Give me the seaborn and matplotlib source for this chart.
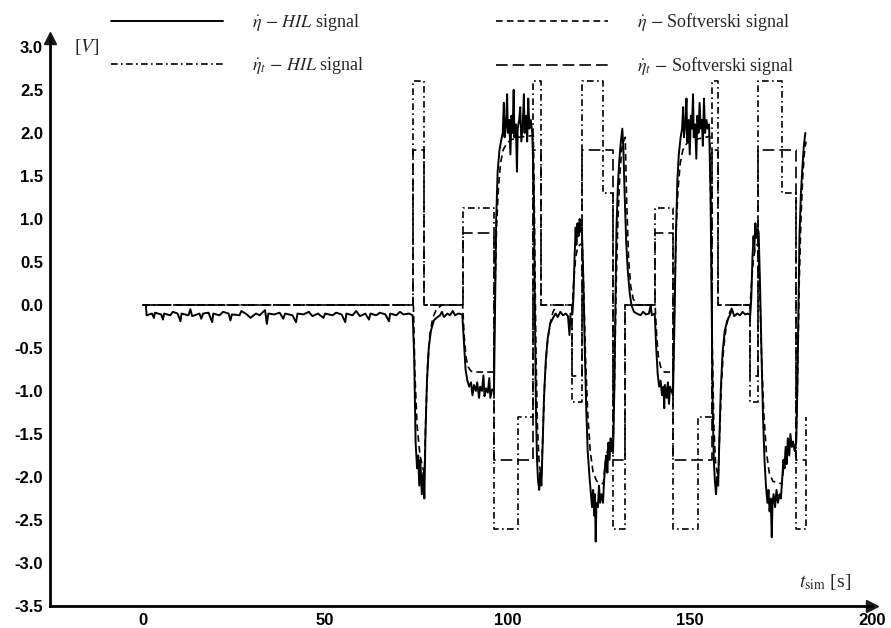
import numpy as np
import pandas as pd
import matplotlib.pyplot as plt
import seaborn as sns

# eta_t HIL (reference, dash-dot) - step breakpoints
ref_hil_t = [0, 74.2, 77.0, 87.7, 96.2, 103.0, 107.1, 109.3, 117.8, 120.5, 126.3, 129.0,
             132.3, 140.5, 145.5, 152.3, 156.0, 157.8, 166.6, 168.8, 175.3, 179.2, 182.0]
ref_hil_v = [0, 2.6, 0, 1.13, -2.6, -1.3, 2.6, 0, -1.13, 2.6, 1.3, -2.6,
             0, 1.13, -2.6, -1.3, 2.6, 0, -1.13, 2.6, 1.3, -2.6, -1.3]

# eta_t Softverski (reference, long dash) - step breakpoints
ref_sw_t = [0, 74.2, 77.0, 87.7, 96.2, 107.1, 109.3, 117.8, 120.5, 129.0, 132.3,
            140.5, 145.5, 156.0, 157.8, 166.6, 168.8, 179.2, 182.0]
ref_sw_v = [0, 1.8, 0, 0.84, -1.8, 1.8, 0, -0.83, 1.8, -1.8, 0,
            0.84, -1.8, 1.8, 0, -0.83, 1.8, -1.8, -1.8]

# eta HIL (measured, solid)
hil_eta = [
    (0, 0.0), (0.8, 0.0), (1.0, -0.12), (2.5, -0.1), (3.0, -0.15), (3.3, -0.09), (5.0, -0.11),
    (5.5, -0.17), (5.8, -0.1), (7.5, -0.12), (8.2, -0.08), (9.5, -0.1), (10.3, -0.19), (10.6, -0.1),
    (12.5, -0.12), (13.0, -0.05), (13.5, -0.13), (15.5, -0.1), (16.0, -0.16), (16.5, -0.1),
    (18.0, -0.09), (19.0, -0.2), (19.3, -0.1), (21.0, -0.12), (22.0, -0.08), (23.5, -0.1),
    (24.0, -0.18), (24.4, -0.11), (26.5, -0.12), (27.0, -0.07), (28.5, -0.11), (29.5, -0.15),
    (31.0, -0.1), (32.0, -0.12), (33.5, -0.06), (34.0, -0.22), (34.4, -0.1), (36.0, -0.11),
    (37.5, -0.09), (38.5, -0.16), (39.0, -0.1), (41.0, -0.12), (42.0, -0.2), (42.4, -0.1),
    (44.0, -0.11), (45.5, -0.08), (46.5, -0.13), (48.0, -0.1), (49.5, -0.15), (50.0, -0.1),
    (52.0, -0.12), (53.0, -0.09), (54.5, -0.11), (55.5, -0.2), (55.8, -0.1), (57.5, -0.12),
    (58.5, -0.07), (59.5, -0.13), (61.0, -0.1), (62.0, -0.17), (62.4, -0.1), (64.0, -0.12),
    (65.0, -0.09), (66.5, -0.11), (67.5, -0.19), (67.8, -0.1), (69.5, -0.12), (70.5, -0.08),
    (71.5, -0.11), (73.0, -0.1), (74.0, -0.12),
    (74.4, -0.6), (74.8, -1.6), (75.2, -1.9), (75.5, -1.75), (75.8, -2.1), (76.1, -1.8),
    (76.5, -2.2), (76.9, -1.95), (77.2, -2.25), (77.5, -1.5), (77.9, -0.9), (78.4, -0.5),
    (79.0, -0.3), (79.8, -0.18), (80.5, -0.15), (81.5, -0.12), (82.0, -0.08), (82.6, -0.14),
    (83.5, -0.1), (84.2, -0.12), (85.0, -0.07), (85.6, -0.12), (86.5, -0.1), (87.6, -0.11),
    (88.0, -0.4), (88.5, -0.75), (89.0, -0.88), (89.5, -0.95), (90.0, -0.9), (90.4, -1.05),
    (90.8, -0.93), (91.3, -1.0), (91.7, -0.9), (92.2, -1.08), (92.5, -0.95), (93.0, -1.0),
    (93.4, -0.82), (93.7, -1.06), (94.1, -0.97), (94.6, -1.02), (95.0, -0.85), (95.3, -1.08),
    (95.8, -0.98), (96.3, -1.0),
    (96.6, 0.0), (96.9, 1.0), (97.3, 1.55), (97.8, 1.8), (98.3, 1.92), (98.7, 2.0), (99.0, 2.35),
    (99.2, 1.95), (99.6, 2.1), (99.9, 2.45), (100.1, 2.0), (100.5, 2.15), (100.8, 1.75),
    (101.1, 2.2), (101.4, 2.0), (101.7, 2.5), (101.9, 1.95), (102.3, 2.1), (102.6, 1.55),
    (102.8, 2.05), (103.2, 2.15), (103.5, 2.3), (103.8, 1.9), (104.2, 2.1), (104.5, 2.45),
    (104.7, 2.0), (105.1, 2.2), (105.4, 1.9), (105.7, 2.4), (106.0, 2.05), (106.4, 2.15),
    (106.8, 2.0),
    (107.2, 1.4), (107.5, 0.0), (107.8, -1.2), (108.1, -1.8), (108.4, -2.05), (108.7, -2.15),
    (109.0, -1.95), (109.3, -2.1), (109.6, -1.7), (110.0, -1.1), (110.5, -0.65), (111.0, -0.4),
    (111.7, -0.22), (112.5, -0.15), (113.2, -0.1), (113.8, -0.14), (114.5, -0.08), (115.2, -0.12),
    (116.0, -0.1), (116.6, -0.13), (117.0, -0.35), (117.3, -0.1), (117.8, -0.11),
    (118.1, 0.1), (118.4, 0.55), (118.7, 0.9), (118.9, 0.7), (119.2, 0.95), (119.5, 0.8),
    (119.8, 1.0), (120.1, 0.85), (120.4, 0.9),
    (120.8, 0.3), (121.2, -0.5), (121.6, -1.2), (122.0, -1.7), (122.5, -2.0), (122.9, -2.2),
    (123.2, -2.35), (123.5, -2.15), (123.8, -2.45), (124.0, -2.2), (124.2, -2.75), (124.4, -2.3),
    (124.8, -2.35), (125.1, -2.1), (125.4, -2.3), (125.8, -2.2), (126.2, -2.3), (126.5, -2.05),
    (126.8, -1.85), (127.1, -1.75), (127.4, -1.95), (127.7, -1.6), (128.0, -1.8), (128.3, -1.55),
    (128.6, -1.7), (129.0, -1.65),
    (129.3, -1.0), (129.6, 0.0), (129.9, 0.9), (130.3, 1.4), (130.7, 1.7), (131.1, 1.9),
    (131.5, 2.05), (131.8, 1.8), (132.2, 1.2), (132.6, 0.7), (133.0, 0.4), (133.5, 0.15),
    (134.0, 0.0), (134.7, -0.08), (135.5, -0.1), (136.5, -0.12), (137.2, -0.08), (138.0, -0.11),
    (138.8, -0.1), (139.3, 0.0), (139.6, -0.12), (140.4, -0.1),
    (140.8, -0.5), (141.2, -0.8), (141.6, -0.95), (142.0, -0.88), (142.4, -1.05), (142.8, -0.95),
    (143.0, -1.2), (143.2, -0.93), (143.7, -1.08), (144.0, -0.9), (144.3, -1.15), (144.6, -0.95),
    (145.0, -1.0), (145.4, -1.05),
    (145.8, -0.2), (146.2, 0.8), (146.6, 1.45), (147.0, 1.75), (147.5, 1.95), (147.9, 2.05),
    (148.2, 2.3), (148.4, 1.95), (148.8, 2.1), (149.1, 2.4), (149.3, 1.9), (149.7, 2.15),
    (150.0, 1.75), (150.3, 2.2), (150.6, 2.05), (150.9, 2.45), (151.1, 1.95), (151.5, 2.1),
    (151.8, 1.7), (152.1, 2.2), (152.4, 2.0), (152.7, 2.35), (153.0, 2.05), (153.3, 2.15),
    (153.6, 1.85), (153.9, 2.4), (154.2, 2.0), (154.6, 2.15), (154.9, 2.05), (155.3, 2.1),
    (155.7, 1.3), (156.0, 0.0), (156.3, -1.2), (156.6, -1.8), (156.9, -2.05), (157.2, -2.2),
    (157.5, -2.0), (157.8, -2.1), (158.1, -1.6), (158.5, -1.0), (159.0, -0.55), (159.6, -0.3),
    (160.3, -0.18), (161.0, -0.12), (161.6, -0.05), (162.2, -0.13), (163.0, -0.1), (163.8, -0.12),
    (164.5, -0.08), (165.2, -0.11), (166.0, -0.1), (166.6, -0.12),
    (166.9, 0.1), (167.2, 0.55), (167.5, 0.8), (167.7, 0.65), (168.0, 0.95), (168.3, 0.78),
    (168.6, 0.88), (168.9, 0.85),
    (169.3, 0.2), (169.7, -0.6), (170.1, -1.3), (170.5, -1.8), (170.9, -2.1), (171.3, -2.3),
    (171.6, -2.15), (171.9, -2.4), (172.2, -2.25), (172.5, -2.7), (172.7, -2.3), (173.0, -2.2),
    (173.4, -2.35), (173.8, -2.15), (174.2, -2.3), (174.6, -2.2), (175.0, -2.25), (175.4, -2.0),
    (175.7, -1.8), (176.0, -1.9), (176.3, -1.65), (176.6, -1.85), (176.9, -1.55), (177.3, -1.75),
    (177.6, -1.5), (178.0, -1.65), (178.4, -1.6), (178.8, -1.7), (179.2, -1.6),
    (179.5, -1.0), (179.8, -0.1), (180.1, 0.8), (180.5, 1.3), (180.9, 1.6), (181.3, 1.85),
    (181.7, 2.0),
]

# eta Softverski (model, dashed)
sw_eta = [
    (0, 0.0), (74.2, 0.0), (74.6, -0.8), (75.2, -1.4), (76.0, -1.75), (76.8, -1.9), (77.2, -1.95),
    (77.6, -1.3), (78.1, -0.7), (78.7, -0.35), (79.5, -0.15), (80.5, -0.05), (82.0, 0.0),
    (87.7, 0.0), (88.1, -0.35), (88.6, -0.6), (89.2, -0.72), (90.0, -0.77), (91.0, -0.78),
    (96.2, -0.78), (96.6, 0.2), (97.0, 0.9), (97.5, 1.35), (98.1, 1.65), (98.8, 1.8), (99.8, 1.88),
    (101.0, 1.92), (103.0, 1.95), (107.1, 1.97), (107.4, 1.0), (107.8, -0.5), (108.2, -1.4),
    (108.7, -1.85), (109.3, -2.0), (109.7, -1.5), (110.2, -0.9), (110.8, -0.5), (111.5, -0.25),
    (112.5, -0.08), (113.5, 0.0), (117.8, 0.0), (118.2, 0.3), (118.7, 0.55), (119.3, 0.68),
    (120.5, 0.72), (120.9, 0.2), (121.4, -0.6), (122.0, -1.25), (122.7, -1.7), (123.5, -1.95),
    (124.5, -2.05), (126.3, -2.08), (126.8, -1.85), (127.4, -1.7), (128.2, -1.6), (129.0, -1.58),
    (129.4, -0.8), (129.8, 0.2), (130.3, 1.0), (130.8, 1.5), (131.3, 1.8), (131.8, 1.9),
    (132.3, 1.95), (132.7, 1.2), (133.2, 0.55), (133.8, 0.22), (134.5, 0.07), (135.5, 0.0),
    (140.5, 0.0), (140.9, -0.35), (141.4, -0.6), (142.0, -0.72), (143.0, -0.78), (145.5, -0.78),
    (145.9, 0.2), (146.3, 0.9), (146.8, 1.35), (147.4, 1.65), (148.1, 1.8), (149.2, 1.88),
    (151.0, 1.92), (155.5, 1.96), (155.8, 1.0), (156.2, -0.5), (156.6, -1.4), (157.1, -1.85),
    (157.8, -2.0), (158.2, -1.5), (158.7, -0.9), (159.3, -0.5), (160.0, -0.25), (161.0, -0.08),
    (162.0, 0.0), (166.6, 0.0), (167.0, 0.3), (167.5, 0.55), (168.1, 0.68), (168.8, 0.72),
    (169.2, 0.2), (169.7, -0.6), (170.3, -1.25), (171.0, -1.7), (171.8, -1.95), (172.8, -2.05),
    (175.3, -2.08), (175.8, -1.85), (176.4, -1.7), (177.2, -1.6), (179.2, -1.58), (179.6, -0.8),
    (180.0, 0.2), (180.5, 1.0), (181.0, 1.5), (181.5, 1.8), (181.9, 1.9),
]

labels = [r'$\dot{\eta}$ $-$ $HIL$ signal', r'$\dot{\eta}_t$ $-$ $HIL$ signal',
          r'$\dot{\eta}$ $-$ Softverski signal', r'$\dot{\eta}_t$ $-$ Softverski signal']

sns.set_theme(style='white')
plt.rcParams['mathtext.fontset'] = 'stix'
plt.rcParams['axes.unicode_minus'] = False
plt.rcParams['font.family'] = ['Liberation Serif', 'DejaVu Serif']

hil = pd.DataFrame(hil_eta, columns=['t', 'v'])
sw = pd.DataFrame(sw_eta, columns=['t', 'v'])

fig = plt.figure(figsize=(8.91, 6.28), dpi=100)
ax = fig.add_axes([0.0561, 0.035, 0.9226, 0.904])

sns.lineplot(x='t', y='v', data=hil, ax=ax, color='black', lw=1.8, estimator=None,
             label=labels[0])
sns.lineplot(x=ref_hil_t, y=ref_hil_v, ax=ax, color='black', lw=1.2, estimator=None,
             drawstyle='steps-post', linestyle=(0, (4, 2, 1, 2)), label=labels[1])
sns.lineplot(x='t', y='v', data=sw, ax=ax, color='black', lw=1.2, estimator=None,
             linestyle=(0, (4, 2.5)), label=labels[2])
sns.lineplot(x=ref_sw_t, y=ref_sw_v, ax=ax, color='black', lw=1.2, estimator=None,
             drawstyle='steps-post', linestyle=(0, (7, 3)), label=labels[3])

handles, labs = ax.get_legend_handles_labels()
ax.get_legend().remove()
handles[0].set_linewidth(1.4)
fig.legend(handles, labs, ncol=2, loc='upper left', bbox_to_anchor=(0.125, 0.982),
           frameon=False, fontsize=13, handlelength=6.2, handletextpad=1.6,
           columnspacing=7.25, labelspacing=1.2, borderpad=0, borderaxespad=0)

ax.set_xlim(-25.5, 200)
ax.set_ylim(-3.5, 3.1)
ax.set_xticks([0, 50, 100, 150, 200])
ax.set_xticks([25, 75, 125, 175], minor=True)
ax.set_yticks(np.arange(-3.5, 3.01, 0.5))
ax.set_yticks(np.arange(-3.25, 3.0, 0.5), minor=True)
ax.set_yticklabels(['%.1f' % y for y in np.arange(-3.5, 3.01, 0.5)])
ax.tick_params(which='major', direction='in', length=9, width=1.5, pad=5, colors='black')
ax.tick_params(which='minor', direction='in', length=5, width=1.5)
for lab in ax.get_xticklabels() + ax.get_yticklabels():
    lab.set_family('Liberation Sans')
    lab.set_fontweight('bold')
    lab.set_fontsize(12)

for s in ['top', 'right']:
    ax.spines[s].set_visible(False)
for s in ['left', 'bottom']:
    ax.spines[s].set_linewidth(2)
    ax.spines[s].set_color('black')
ax.plot(1, 0, '>k', ms=9, transform=ax.transAxes, clip_on=False)
ax.plot(0, 1, '^k', ms=9, transform=ax.transAxes, clip_on=False)

ax.set_xlabel('')
ax.set_ylabel('')
ax.text(-19, 3.0, '[$V$]', fontsize=14, va='center', ha='left')
ax.text(180, -3.22, r'$t_{\mathrm{sim}}$ [s]', fontsize=14, va='center', ha='left')

plt.savefig('out.png', dpi=100)
